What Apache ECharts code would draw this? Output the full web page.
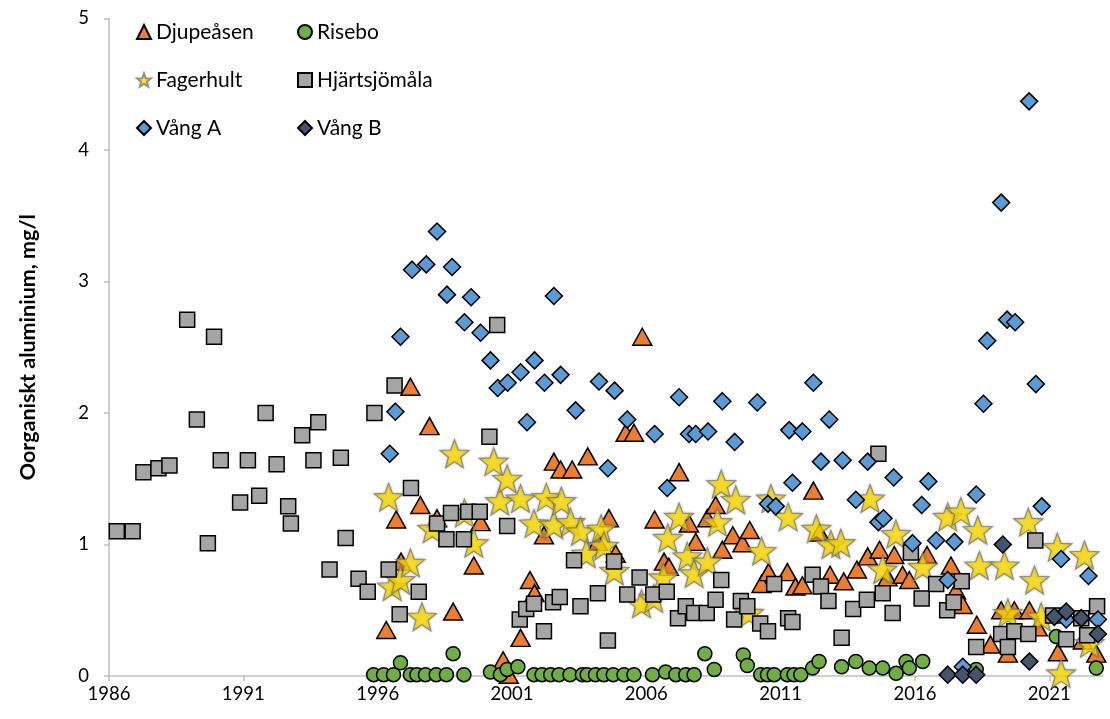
<!DOCTYPE html>
<html>
<head>
<meta charset="utf-8">
<script src="https://cdn.jsdelivr.net/npm/echarts@6/dist/echarts.min.js"></script>
<style>
html,body{margin:0;padding:0;background:#fff;}
#chart{width:1110px;height:719px;}
</style>
</head>
<body>
<div id="chart"></div>
<script>
const xTicks = [1986, 1991, 1996, 2001, 2006, 2011, 2016, 2021];
const yTicks = [0, 1, 2, 3, 4, 5];
const seriesNames = ['Djupeåsen', 'Risebo', 'Fagerhult', 'Hjärtsjömåla', 'Vång A', 'Vång B'];

const djupeasen = [[1996.32,0.35],[1996.69,1.19],[1996.87,0.87],[1997.22,2.20],[1997.59,1.30],[1997.93,1.90],[1998.21,1.20],[1998.81,0.49],[1999.58,0.84],[1999.83,1.17],[2000.67,0.12],[2000.88,0.01],[2001.32,0.29],[2001.67,0.73],[2001.84,0.63],[2002.19,1.07],[2002.56,1.63],[2002.81,1.57],[2003.24,1.57],[2003.82,1.67],[2004.20,1.02],[2004.61,1.20],[2004.86,0.93],[2005.23,1.85],[2005.54,1.85],[2005.85,2.58],[2006.31,1.19],[2006.66,0.87],[2006.84,0.83],[2007.22,1.55],[2007.59,1.16],[2007.84,1.02],[2008.27,1.20],[2008.58,1.30],[2008.83,0.96],[2009.22,1.07],[2009.58,1.01],[2009.85,1.11],[2010.29,0.70],[2010.55,0.79],[2011.25,0.79],[2011.55,0.68],[2011.81,0.69],[2012.22,1.41],[2012.45,1.09],[2012.84,0.77],[2013.35,0.72],[2013.84,0.81],[2014.24,0.91],[2014.68,0.96],[2014.98,0.75],[2015.23,0.92],[2015.54,0.77],[2015.79,0.73],[2016.45,0.92],[2017.34,0.84],[2017.53,0.65],[2017.78,0.54],[2018.30,0.39],[2018.81,0.24],[2019.21,0.50],[2019.46,0.17],[2019.70,0.50],[2020.26,0.50],[2020.57,0.37],[2021.32,0.18],[2022.25,0.27],[2022.75,0.17]];

const risebo = [[1995.85,0.01],[1996.22,0.01],[1996.59,0.01],[1996.85,0.10],[1997.22,0.01],[1997.46,0.01],[1997.78,0.01],[1998.18,0.01],[1998.56,0.01],[1998.81,0.17],[1999.21,0.01],[2000.20,0.03],[2000.57,0.01],[2000.82,0.05],[2001.22,0.07],[2001.82,0.01],[2002.12,0.01],[2002.44,0.01],[2002.75,0.01],[2003.16,0.01],[2003.62,0.01],[2003.80,0.01],[2004.11,0.01],[2004.42,0.01],[2004.77,0.01],[2005.17,0.01],[2005.54,0.01],[2006.23,0.01],[2006.72,0.03],[2007.10,0.01],[2007.47,0.01],[2007.78,0.01],[2008.18,0.17],[2008.53,0.05],[2009.61,0.16],[2009.76,0.08],[2010.26,0.01],[2010.51,0.01],[2010.76,0.01],[2011.25,0.01],[2011.50,0.01],[2011.75,0.01],[2012.19,0.06],[2012.43,0.11],[2013.27,0.07],[2013.80,0.11],[2014.30,0.06],[2014.80,0.06],[2015.30,0.02],[2015.67,0.11],[2015.79,0.06],[2016.29,0.11],[2018.28,0.05],[2021.26,0.30],[2022.75,0.06]];

const fagerhult = [[1996.41,1.36],[1996.54,0.68],[1996.85,0.73],[1997.22,0.86],[1997.65,0.45],[1998.03,1.12],[1998.86,1.69],[1999.23,1.24],[1999.58,1.01],[2000.32,1.63],[2000.55,1.33],[2000.82,1.50],[2001.32,1.35],[2001.82,1.16],[2002.28,1.36],[2002.56,1.15],[2002.84,1.33],[2003.18,1.17],[2003.55,1.10],[2003.77,0.93],[2004.32,1.12],[2004.42,0.99],[2004.81,0.80],[2005.82,0.55],[2006.28,0.59],[2006.63,0.75],[2006.80,1.05],[2007.22,1.21],[2007.53,0.91],[2007.78,0.78],[2008.27,0.87],[2008.65,1.17],[2008.79,1.46],[2009.33,1.34],[2009.83,0.48],[2010.29,0.95],[2010.64,1.35],[2011.28,1.21],[2012.33,1.12],[2012.87,1.00],[2013.24,1.01],[2014.33,1.35],[2014.80,0.81],[2015.29,1.08],[2016.29,0.83],[2017.22,1.21],[2017.71,1.25],[2018.34,1.11],[2018.40,0.84],[2019.33,0.84],[2019.46,0.48],[2020.22,1.17],[2020.45,0.73],[2020.70,0.45],[2021.30,0.98],[2021.44,0.02],[2022.31,0.92],[2022.50,0.25]];

const hjartsjomala = [[1986.29,1.10],[1986.88,1.10],[1987.28,1.55],[1987.84,1.58],[1988.25,1.60],[1988.91,2.71],[1989.27,1.95],[1989.68,1.01],[1989.91,2.58],[1990.16,1.64],[1990.88,1.32],[1991.17,1.64],[1991.59,1.37],[1991.83,2.00],[1992.24,1.61],[1992.67,1.29],[1992.77,1.16],[1993.19,1.83],[1993.61,1.64],[1993.79,1.93],[1994.21,0.81],[1994.63,1.66],[1994.81,1.05],[1995.29,0.74],[1995.63,0.64],[1995.88,2.00],[1996.41,0.81],[1996.63,2.21],[1996.82,0.47],[1997.24,1.43],[1997.53,0.64],[1998.21,1.16],[1998.56,1.04],[1998.73,1.24],[1999.21,1.04],[1999.37,1.25],[1999.80,1.25],[2000.16,1.82],[2000.45,2.67],[2000.82,1.14],[2001.29,0.43],[2001.53,0.51],[2001.82,0.55],[2002.19,0.34],[2002.53,0.56],[2002.78,0.60],[2003.31,0.88],[2003.55,0.53],[2004.20,0.63],[2004.57,0.27],[2004.80,0.87],[2005.29,0.62],[2005.75,0.75],[2006.26,0.62],[2006.76,0.64],[2007.18,0.44],[2007.47,0.53],[2007.78,0.48],[2008.25,0.48],[2008.58,0.58],[2008.79,0.73],[2009.27,0.43],[2009.52,0.57],[2009.76,0.53],[2010.24,0.40],[2010.53,0.34],[2010.76,0.70],[2011.28,0.44],[2011.44,0.41],[2012.19,0.77],[2012.50,0.68],[2012.78,0.57],[2013.27,0.29],[2013.70,0.51],[2014.21,0.58],[2014.64,1.69],[2014.80,0.63],[2015.17,0.48],[2015.85,0.94],[2016.25,0.59],[2016.79,0.70],[2017.20,0.50],[2017.44,0.56],[2017.74,0.72],[2018.28,0.22],[2019.21,0.32],[2019.46,0.22],[2019.70,0.34],[2020.22,0.32],[2020.48,1.03],[2021.14,0.46],[2021.63,0.28],[2022.19,0.44],[2022.41,0.31],[2022.78,0.53]];

const vangA = [[1996.45,1.69],[1996.66,2.01],[1996.85,2.58],[1997.28,3.09],[1997.81,3.13],[1998.21,3.38],[1998.58,2.90],[1998.77,3.11],[1999.23,2.69],[1999.48,2.88],[1999.83,2.61],[2000.20,2.40],[2000.47,2.19],[2000.84,2.23],[2001.32,2.31],[2001.56,1.93],[2001.84,2.40],[2002.21,2.23],[2002.56,2.89],[2002.81,2.29],[2003.37,2.02],[2004.24,2.24],[2004.57,1.58],[2004.82,2.17],[2005.29,1.95],[2006.31,1.84],[2006.78,1.43],[2007.22,2.12],[2007.59,1.84],[2007.84,1.84],[2008.30,1.86],[2008.83,2.09],[2009.29,1.78],[2010.13,2.08],[2010.53,1.31],[2010.82,1.29],[2011.32,1.87],[2011.44,1.47],[2011.81,1.86],[2012.22,2.23],[2012.50,1.63],[2012.81,1.95],[2013.31,1.64],[2013.80,1.34],[2014.24,1.63],[2014.64,1.17],[2014.83,1.20],[2015.21,1.51],[2015.91,1.01],[2016.25,1.30],[2016.50,1.48],[2016.79,1.03],[2017.22,0.73],[2017.47,1.02],[2017.78,0.07],[2018.28,1.38],[2018.55,2.07],[2018.69,2.55],[2019.21,3.60],[2019.43,2.71],[2019.73,2.69],[2020.25,4.37],[2020.50,2.22],[2020.72,1.29],[2021.44,0.89],[2021.63,0.43],[2022.46,0.76],[2022.81,0.43]];

const vangB = [[2017.22,0.01],[2017.78,0.01],[2018.28,0.01],[2019.27,1.00],[2020.26,0.11],[2021.19,0.45],[2021.63,0.49],[2022.19,0.44],[2022.81,0.32]];

const STAR = 'path://M50,2 L62.34,35.01 L97.55,36.55 L69.97,58.49 L79.39,92.45 L50,73 L20.61,92.45 L30.03,58.49 L2.45,36.55 L37.66,35.01 Z';
const FONT = 'Lato, "Noto Sans", sans-serif';

const chart = echarts.init(document.getElementById('chart'), null, {renderer: 'canvas'});

function mk(name, data, symbol, size, color, extra) {
  return Object.assign({
    name: name,
    type: 'scatter',
    data: data,
    symbol: symbol,
    symbolSize: size,
    itemStyle: {color: color, borderColor: '#000', borderWidth: 1.5, opacity: 1},
    emphasis: {disabled: true},
    animation: false
  }, extra || {});
}

const legendCommon = {
  orient: 'vertical',
  itemWidth: 14,
  itemHeight: 14,
  itemGap: 26,
  textStyle: {fontSize: 21, fontFamily: FONT, color: '#000', lineHeight: 22},
  selectedMode: false
};

const option = {
  backgroundColor: '#fff',
  animation: false,
  grid: {left: 109, right: 7, top: 18.5, bottom: 43, containLabel: false},
  legend: [
    Object.assign({left: 131, top: 16, data: [seriesNames[0], seriesNames[2], seriesNames[4]]}, legendCommon),
    Object.assign({left: 292, top: 16, data: [seriesNames[1], seriesNames[3], seriesNames[5]]}, legendCommon)
  ],
  xAxis: {
    type: 'value',
    min: 1986,
    max: 2023,
    interval: 5,
    splitLine: {show: false},
    axisLine: {show: true, onZero: false, lineStyle: {color: '#bfbfbf', width: 1.5}},
    axisTick: {show: true, length: 5, customValues: xTicks, lineStyle: {color: '#bfbfbf', width: 1.5}},
    axisLabel: {customValues: xTicks, fontSize: 18.5, fontFamily: FONT, color: '#000', margin: 9,
      formatter: v => String(v)}
  },
  yAxis: {
    type: 'value',
    min: 0,
    max: 5,
    interval: 1,
    name: 'Oorganiskt aluminium, mg/l',
    nameLocation: 'middle',
    nameGap: 70,
    nameTextStyle: {fontSize: 21.5, fontWeight: 'bold', fontFamily: FONT, color: '#000'},
    splitLine: {show: false},
    axisLine: {show: true, lineStyle: {color: '#bfbfbf', width: 1.5}},
    axisTick: {show: true, length: 5, customValues: yTicks, lineStyle: {color: '#bfbfbf', width: 1.5}},
    axisLabel: {customValues: yTicks, fontSize: 18.5, fontFamily: FONT, color: '#000', margin: 20}
  },
  series: [
    mk(seriesNames[0], djupeasen, 'triangle', [19, 17], '#ED7D31'),
    mk(seriesNames[1], risebo, 'circle', 14, '#70AD47'),
    mk(seriesNames[2], fagerhult, STAR, [29, 28], '#FFDD00', {itemStyle: {color: '#FFDD00', borderColor: '#7a7a7a', borderWidth: 1.2, shadowColor: 'rgba(0,0,0,0.25)', shadowBlur: 3}}),
    mk(seriesNames[3], hjartsjomala, 'rect', 15, '#A5A5A5'),
    mk(seriesNames[4], vangA, 'diamond', [17, 17], '#5B9BD5'),
    mk(seriesNames[5], vangB, 'diamond', [17, 17], '#44546A')
  ]
};
chart.setOption(option);
</script>
</body>
</html>
